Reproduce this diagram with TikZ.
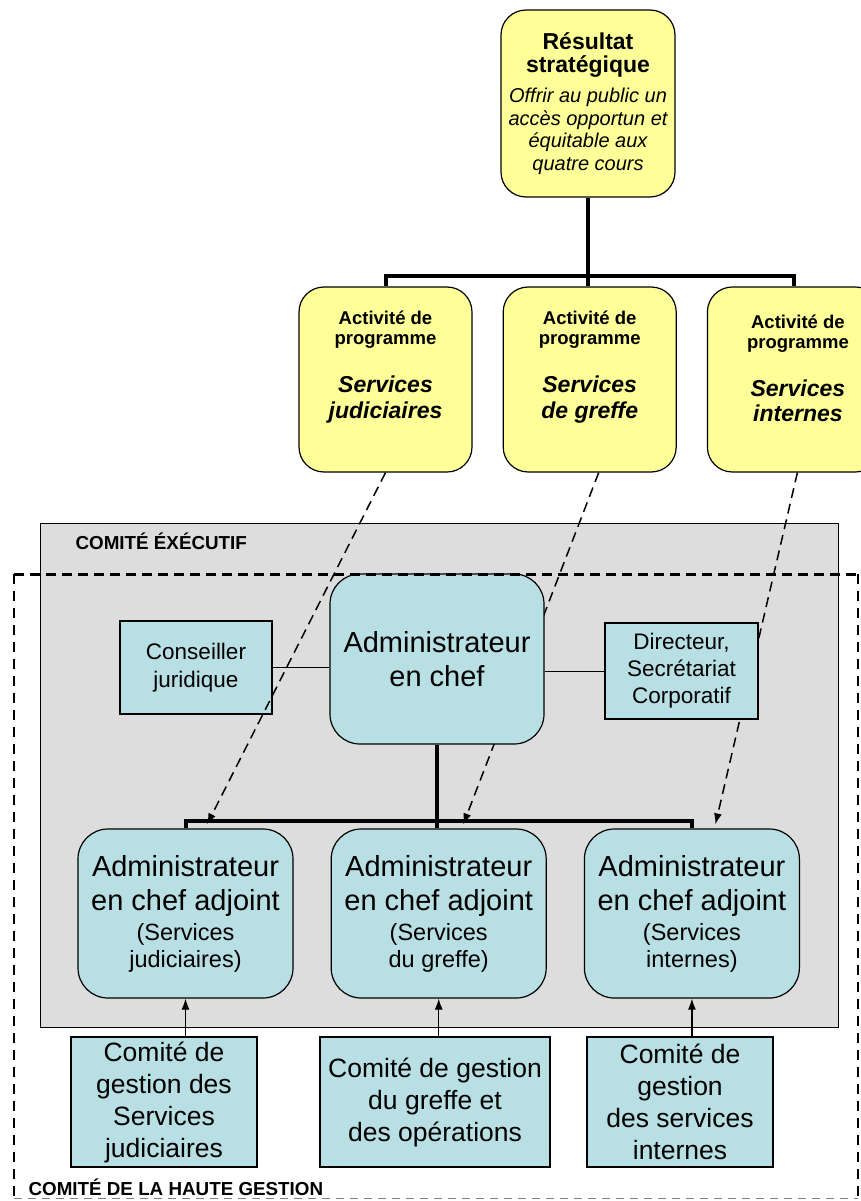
\documentclass[tikz,border=0pt]{standalone}
\usepackage{fontspec}
\setmainfont{Liberation Sans}
\usetikzlibrary{arrows.meta,backgrounds,positioning}
\definecolor{progyellow}{HTML}{FFFF99}
\definecolor{orgblue}{HTML}{B8DFE3}
\definecolor{execgray}{HTML}{DDDDDD}
\tikzset{every picture/.style={line width=1.2pt}}

\begin{document}
\begin{tikzpicture}[x=1pt,y=-1pt,
    yellowbox/.style={draw, fill=progyellow, rounded corners=25pt, inner sep=0pt, align=center},
    progbox/.style={yellowbox, minimum width=173pt, minimum height=185pt},
    progtext/.style={align=center, inner sep=0pt, font=\fontsize{18.5}{26}\selectfont\bfseries},
    bluebox/.style={draw, fill=orgblue, rounded corners=30pt, inner sep=0pt, align=center},
    deputybox/.style={bluebox, minimum width=215pt, minimum height=169pt, font=\fontsize{29}{34}\selectfont},
    flatbox/.style={draw, fill=orgblue, inner sep=0pt, align=center},
    mgmtbox/.style={flatbox, minimum height=130pt, font=\fontsize{26.5}{32}\selectfont},
    tree/.style={line width=4pt},
    link/.style={line width=1pt},
    mapto/.style={line width=1.5pt, dash pattern=on 10pt off 6pt, -{Latex[length=11pt,width=8pt]}},
    feed/.style={line width=1.2pt, -{Latex[length=11pt,width=8pt]}},
    committee/.style={anchor=base west, inner sep=0pt, font=\fontsize{18.8}{20}\selectfont\bfseries},
]
\useasboundingbox (0,0) rectangle (861,1201);

% comite executif
\begin{scope}[on background layer]
    \filldraw[fill=execgray, draw=black, line width=1pt] (40,523) rectangle (838,1027);
\end{scope}
\node[committee] (execlabel) at (75,549) {COMITÉ ÉXÉCUTIF};

% resultat strategique
\node[yellowbox, minimum width=174pt, minimum height=187pt, font=\fontsize{20}{22.5}\selectfont\itshape] (res) at (588,103.5)
    {{\upshape\bfseries\fontsize{23}{24}\selectfont Résultat}\\[0.5pt]{\upshape\bfseries\fontsize{23}{24}\selectfont stratégique}\\[7.5pt]Offrir au public un\\accès opportun et\\équitable aux\\quatre cours};

% activites de programme
\node[progbox] (pj) at (385.5,379.5) {};
\node[progbox, right=30pt of pj] (pg) {};
\node[progbox, right=30pt of pg] (pi) {};
\node[progtext] at ([yshift=12.5pt]pj.center) {Activité de\\[-6pt]programme\\[22pt]{\itshape\fontsize{23}{26}\selectfont Services}\\[-0.5pt]{\itshape\fontsize{23}{26}\selectfont judiciaires}};
\node[progtext] at ([yshift=12.5pt]pg.center) {Activité de\\[-6pt]programme\\[22pt]{\itshape\fontsize{23}{26}\selectfont Services}\\[-0.5pt]{\itshape\fontsize{23}{26}\selectfont de greffe}};
\node[progtext] at ([xshift=4pt,yshift=11pt]pi.center) {Activité de\\[-6pt]programme\\[22pt]{\itshape\fontsize{23}{26}\selectfont Services}\\[-0.5pt]{\itshape\fontsize{23}{26}\selectfont internes}};

\coordinate (topbar) at (res.south |- 0,276);
\draw[tree] (res.south) -- (topbar) -- (topbar |- pg.north);
\draw[tree] (pj.north) |- (topbar) -| (pi.north);

% administration
\node[bluebox, minimum width=214pt, minimum height=170pt, font=\fontsize{29}{34}\selectfont] (chef) at (437,659) {Administrateur\\en chef};
\node[flatbox, minimum width=152pt, minimum height=93pt, font=\fontsize{22.5}{28.5}\selectfont] (cons) at (196,667.5) {Conseiller\\juridique};
\node[flatbox, minimum width=153pt, minimum height=96pt, font=\fontsize{22.5}{27}\selectfont] (dir) at (681.5,671) {Directeur,\\Secrétariat\\Corporatif};
\draw[link] (cons.east) -- (cons.east -| chef.west);
\draw[link] (dir.west) -- (dir.west -| chef.east);

\node[deputybox] (acaj) at (185.5,913.5) {Administrateur\\en chef adjoint\\[-4pt]{\fontsize{23.5}{28}\selectfont(Services}\\[-7pt]{\fontsize{23.5}{28}\selectfont judiciaires)}};
\node[deputybox, right=37pt of acaj] (acag) {Administrateur\\en chef adjoint\\[-4pt]{\fontsize{23.5}{28}\selectfont(Services}\\[-7pt]{\fontsize{23.5}{28}\selectfont du greffe)}};
\node[deputybox, right=37pt of acag] (acai) {Administrateur\\en chef adjoint\\[-4pt]{\fontsize{23.5}{28}\selectfont(Services}\\[-7pt]{\fontsize{23.5}{28}\selectfont internes)}};

\coordinate (lowbar) at (chef.south |- 0,821);
\draw[tree] (chef.south) -- (lowbar) -- (lowbar |- acag.north);
\draw[tree] (acaj.north) |- (lowbar) -| (acai.north);

% comites de gestion
\node[mgmtbox, minimum width=186pt] (cj) at (164,1102) {Comité de\\gestion des\\Services\\judiciaires};
\node[mgmtbox, minimum width=230pt] (cg) at (435,1102) {Comité de gestion\\du greffe et\\des opérations};
\node[mgmtbox, minimum width=186pt] (ci) at (680,1102) {Comité de\\gestion\\des services\\internes};
\draw[feed] (cj.north -| acaj.south) -- (acaj.south);
\draw[feed] (cg.north -| acag.south) -- (acag.south);
\draw[feed] (ci.north -| acai.south) -- (acai.south);

% liens activite - administrateur
\begin{scope}[on background layer]
    \draw[mapto] ([xshift=9pt]pg.south) -- ([xshift=24.5pt,yshift=4pt]acag.north);
    \draw[mapto] ([xshift=3.5pt]pi.south) -- ([xshift=23.5pt,yshift=4pt]acai.north);
\end{scope}
\draw[mapto] (pj.south) -- ([xshift=21.5pt,yshift=4pt]acaj.north);

% comite de la haute gestion
\draw[line width=3pt, dash pattern=on 10pt off 6pt] (14,574) -- (858,574);
\draw[line width=2.2pt, dash pattern=on 10pt off 7pt] (14,574) -- (14,1198) (858,574) -- (858,1198);
\draw[line width=1pt, gray, dash pattern=on 8pt off 6pt] (14,1198) -- (858,1198);
\node[committee] (hautelabel) at (28,1195) {COMITÉ DE LA HAUTE GESTION};
\end{tikzpicture}
\end{document}
